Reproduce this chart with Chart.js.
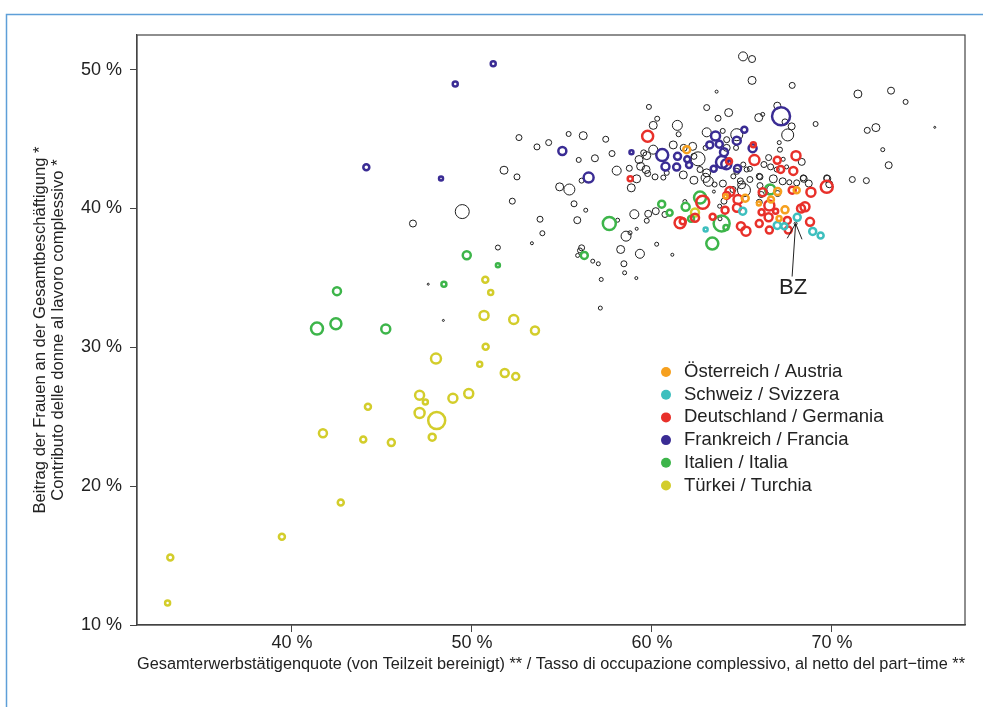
<!DOCTYPE html>
<html>
<head>
<meta charset="utf-8">
<script src="https://cdn.jsdelivr.net/npm/chart.js@4"></script>
<style>
  body { margin: 0; background: #fff; }
</style>
</head>
<body>
<canvas id="chart" width="983" height="707"></canvas>
<script>
// values: [employment rate %, women's share %, marker radius]
const austria = [[61.93,44.24,3.5],[65.18,40.74,3.5],[67.39,39.91,3.5],[67.06,39.28,2.5],[66.61,40.65,3],[68.04,41.32,3],[66.98,41.22,3.5],[65.94,40.36,2],[64.09,40.88,2]];
const switzerland = [[65.04,39.81,3.5],[62.98,38.49,2],[68.07,39.37,3.5],[66.96,38.78,3.5],[67.35,38.73,3],[68.93,38.35,3.5],[69.37,38.06,3]];
const germany = [[59.76,45.2,5.5],[65.63,44.6,2.5],[65.69,43.49,5],[66.96,43.47,3.5],[67.15,42.82,3.5],[67.85,42.71,4],[68.0,43.81,4.5],[64.28,43.4,3],[58.79,42.14,2.5],[61.56,38.97,5.5],[61.71,39.09,3],[62.39,39.33,4],[62.82,40.45,6.5],[63.37,39.4,3],[64.06,39.88,3.5],[64.33,41.22,4.5],[64.15,40.94,3.5],[64.78,40.65,4.5],[64.72,40.05,4],[64.94,38.73,4],[65.22,38.37,4.5],[65.96,38.92,3.5],[66.48,39.37,4],[66.52,40.22,5],[66.09,39.74,3],[66.87,39.81,2.5],[66.52,38.45,3.5],[67.52,39.14,3.5],[67.57,38.45,3.5],[68.28,40.0,4],[68.5,40.12,4.5],[68.78,39.04,4],[68.83,41.18,4.5],[67.79,41.32,3.5],[69.71,41.56,6],[66.15,41.18,4]];
const france = [[51.18,50.43,2.5],[49.07,48.97,2.5],[44.13,42.97,3],[48.28,42.16,2],[55.02,44.15,4],[58.86,44.05,2],[60.57,43.85,6],[61.42,43.76,3.5],[60.75,43.02,4],[61.37,42.99,3.5],[61.96,43.55,3],[62.06,43.14,3],[63.53,45.22,4.5],[63.21,44.58,3.5],[63.74,44.63,3.5],[64.0,44.06,4],[64.71,44.89,4],[65.13,45.68,3],[63.89,43.35,6],[64.13,43.19,5],[63.43,42.86,3],[64.75,42.88,3.5],[65.59,44.35,4],[67.17,46.64,9],[56.48,42.23,5]];
const italy = [[49.71,36.64,4],[51.44,35.92,2],[48.44,34.55,2.5],[42.5,34.05,4],[41.39,31.35,6],[42.44,31.7,5.5],[45.21,31.32,4.5],[60.54,40.31,3.5],[60.98,39.69,3],[57.63,38.92,6.5],[62.67,40.79,6],[61.87,40.12,4],[62.17,39.26,3],[63.87,38.92,8],[63.35,37.48,6],[64.11,38.63,2.5],[56.24,36.62,3.5],[66.56,41.37,5]];
const turkey = [[33.24,14.87,3],[33.09,11.58,2.5],[39.44,16.35,3],[42.71,18.83,3],[41.72,23.81,4],[43.96,23.36,3],[44.22,25.73,3],[45.52,23.14,3.5],[47.09,26.55,4.5],[47.41,26.07,2.5],[47.09,25.27,5],[48.04,24.73,8.5],[47.79,23.53,3.5],[48.0,29.19,5],[48.94,26.33,4.5],[49.82,26.67,4.5],[50.43,28.78,2.5],[50.76,30.05,3],[51.82,28.15,4],[52.43,27.9,3.5],[53.5,31.22,4],[50.74,34.87,3],[51.04,33.96,2.5],[50.67,32.3,4.5],[52.32,32.01,4.5],[62.39,39.71,4]];
const others = [[52.61,45.11,3],[53.61,44.44,3],[54.26,44.75,3],[51.78,42.76,4],[52.5,42.28,3],[49.46,39.78,7],[46.72,38.92,3.5],[52.24,40.53,3],[53.78,39.23,3],[53.91,38.22,2.5],[53.33,37.5,1.5],[51.44,37.19,2.5],[47.57,34.55,1],[48.41,31.94,1],
  [65.06,50.96,4.5],[65.56,50.77,3.5],[65.56,49.23,4],[67.79,48.87,3],[63.59,48.42,1.5],[71.44,48.25,4],[73.28,48.49,3.5],[74.09,47.68,2.5],[59.83,47.32,2.5],[63.04,47.27,3],[64.26,46.91,4],[63.67,46.5,3],[65.93,46.55,4],[66.15,46.78,2],[66.96,47.41,3.5],[67.39,46.24,3],[69.09,46.09,2.5],[72.44,45.83,4],[71.96,45.63,3],[75.71,45.85,1],
  [60.29,46.47,2.5],[60.07,45.99,4],[61.41,45.99,5],[61.48,45.35,2.5],[63.04,45.49,4.5],[63.93,45.59,2.5],[64.71,45.32,6],[67.76,45.92,3.5],[67.54,45.3,6],[67.07,44.75,2],[67.11,44.24,2.5],
  [55.37,45.37,2.5],[56.18,45.25,4],[57.43,44.99,3],[55.93,43.5,2.5],[56.83,43.62,3.5],[57.78,43.96,3],[58.04,42.73,4.5],[58.74,42.9,3],[59.28,43.53,4],[59.54,44.01,3],[59.71,43.81,4],[60.07,44.24,4.5],[61.18,44.58,4],[61.76,44.37,3.5],[62.26,44.48,4],[62.98,44.37,2.5],[62.56,43.58,7],
  [59.37,43.04,4],[59.67,42.81,4],[59.76,42.52,3],[60.82,42.57,2.5],[61.74,42.42,4],[62.33,43.76,3],[62.67,42.81,3],[63.04,42.57,4],[64.15,44.37,3.5],[64.67,44.37,2.5],[64.15,44.96,3],[64.52,42.32,2.5],[65.26,42.81,2.5],[65.96,42.32,3],[66.22,43.17,3],[66.48,43.67,3],[66.59,43.0,3],[67.29,43.55,2],[67.48,43.0,2],[68.32,43.36,3.5],[68.41,42.21,3],[69.71,42.21,3],[71.13,42.09,3],[71.91,42.01,3],[72.82,44.24,2],[73.15,43.12,3.5],
  [54.87,41.56,4],[55.41,41.37,5.5],[56.09,42.01,2.5],[59.15,42.14,4],[58.85,41.49,4],[60.17,42.28,3],[60.63,42.23,2.5],[62.33,42.04,4],[62.98,42.21,4.5],[63.13,41.96,5],[63.48,41.73,2.5],[63.44,41.22,1.5],[63.94,41.8,3.5],[64.98,41.71,4],[65.11,41.32,6.5],[64.91,41.99,3],[65.44,42.09,3],[66.0,41.65,3],[66.0,42.28,3],[66.74,42.14,4],[67.26,41.96,3.5],[67.63,41.89,2.5],[68.04,41.85,3],[68.43,42.14,3.5],[68.71,41.8,3.5],[69.74,42.14,3.5],[69.85,41.75,3.5],[66.63,41.37,4.5],[66.98,41.08,3],[66.07,41.01,3],[64.5,41.37,3],[64.0,40.53,3],[63.76,40.17,2],[61.83,40.5,2],[65.96,40.45,3],
  [55.67,40.34,3],[56.32,39.88,2],[59.02,39.59,4.5],[59.79,39.62,3.5],[60.21,39.81,3.5],[60.72,39.57,3],[59.71,39.12,2.5],[58.09,39.16,2],[55.85,39.16,3.5],[59.15,38.54,1.5],[58.56,38.01,5],[58.78,38.25,2],[56.09,37.17,3],[56.0,36.98,2.5],[55.87,36.62,2],[58.26,37.05,4],[59.33,36.74,4.5],[60.26,37.43,2],[61.13,36.67,1.5],[56.71,36.21,2],[57.02,36.02,2],[58.44,36.02,3],[58.48,35.37,2],[59.13,34.99,1.5],[57.18,34.89,2],[57.13,32.83,2],[63.78,39.26,2],[65.07,43.17,2.5],[64.71,42.68,3],[65.44,42.86,2.5],[66.93,42.81,2.5]];
const bz = [67.98, 38.92];

const xTicks = [40, 50, 60, 70];
const yTicks = [10, 20, 30, 40, 50];
const xTitle = 'Gesamterwerbstätigenquote (von Teilzeit bereinigt) ** / Tasso di occupazione complessivo, al netto del part\u2212time **';
const yTitle = ['Beitrag der Frauen an der Gesamtbeschäftigung *', 'Contributo delle donne al lavoro complessivo *'];

const FONT = '"Liberation Sans", Arial, Helvetica, sans-serif';
const toPts = arr => arr.map(p => ({x: p[0], y: p[1], r: p[2]}));

function group(label, arr, color, bw) {
  return {
    label: label,
    data: toPts(arr),
    borderColor: color,
    backgroundColor: 'rgba(0,0,0,0)',
    borderWidth: bw,
    hoverBorderWidth: bw,
    showLegend: true
  };
}

const datasets = [
  group('Österreich / Austria', austria, '#f6a01e', 2.5),
  group('Schweiz / Svizzera', switzerland, '#3dbfbe', 2.5),
  group('Deutschland / Germania', germany, '#e8302a', 2.5),
  group('Frankreich / Francia', france, '#3a2c94', 2.5),
  group('Italien / Italia', italy, '#3db54a', 2.5),
  group('Türkei / Turchia', turkey, '#d3cd2b', 2.5)
];
const rest = group('Andere', others.concat([[bz[0], bz[1], 1.5]]), '#1e1e1e', 1);
rest.showLegend = false;
datasets.push(rest);

// blue frame, plot box, legend and BZ arrow
const extras = {
  id: 'extras',
  beforeDraw(chart) {
    const ctx = chart.ctx;
    ctx.save();
    ctx.fillStyle = '#fff';
    ctx.fillRect(0, 0, chart.width, chart.height);
    ctx.strokeStyle = '#5e9fd8';
    ctx.lineWidth = 1.5;
    ctx.beginPath();
    ctx.moveTo(6.5, chart.height);
    ctx.lineTo(6.5, 14.5);
    ctx.lineTo(chart.width, 14.5);
    ctx.stroke();
    ctx.restore();
  },
  afterDraw(chart) {
    const ctx = chart.ctx;
    const a = chart.chartArea;
    ctx.save();
    ctx.strokeStyle = '#444';
    ctx.lineWidth = 1.2;
    ctx.strokeRect(a.left, a.top, a.right - a.left, a.bottom - a.top);

    // legend
    let y = 372;
    ctx.font = '18.5px ' + FONT;
    ctx.textBaseline = 'middle';
    ctx.textAlign = 'left';
    chart.data.datasets.forEach(ds => {
      if (!ds.showLegend) return;
      ctx.fillStyle = ds.borderColor;
      ctx.beginPath();
      ctx.arc(666, y, 5, 0, Math.PI * 2);
      ctx.fill();
      ctx.fillStyle = '#222';
      ctx.fillText(ds.label, 684, y);
      y += 22.7;
    });

    // BZ arrow
    const tx = chart.scales.x.getPixelForValue(bz[0]);
    const ty = chart.scales.y.getPixelForValue(bz[1]);
    const sx = tx - 3.5, sy = ty + 53;
    ctx.strokeStyle = '#222';
    ctx.lineWidth = 1;
    ctx.beginPath();
    ctx.moveTo(sx, sy);
    ctx.lineTo(tx, ty);
    const ang = Math.atan2(ty - sy, tx - sx);
    [0.45, -0.45].forEach(d => {
      ctx.moveTo(tx, ty);
      ctx.lineTo(tx - 17 * Math.cos(ang + d), ty - 17 * Math.sin(ang + d));
    });
    ctx.stroke();
    ctx.fillStyle = '#222';
    ctx.font = '22px ' + FONT;
    ctx.textAlign = 'center';
    ctx.fillText('BZ', sx + 1, sy + 11);
    ctx.restore();
  }
};

new Chart(document.getElementById('chart'), {
  type: 'bubble',
  data: { datasets: datasets },
  plugins: [extras],
  options: {
    responsive: false,
    animation: false,
    devicePixelRatio: 1,
    layout: { padding: { top: 35, right: 18, left: 0, bottom: 0 } },
    plugins: { legend: { display: false }, tooltip: { enabled: false } },
    scales: {
      x: {
        type: 'linear',
        min: 31.39,
        max: 77.39,
        afterBuildTicks: s => { s.ticks = xTicks.map(v => ({value: v})); },
        afterFit: s => { s.height = 82; },
        ticks: {
          autoSkip: false, maxRotation: 0, padding: 0, color: '#222',
          font: { family: FONT, size: 18 },
          callback: v => v + ' %'
        },
        grid: { drawOnChartArea: false, tickLength: 7, color: '#444' },
        border: { color: '#444', width: 1.2 },
        title: {
          display: true, text: xTitle, color: '#222',
          font: { family: FONT, size: 16.9 },
          padding: { top: 0, bottom: 33 }
        }
      },
      y: {
        type: 'linear',
        min: 10,
        max: 52.5,
        afterBuildTicks: s => { s.ticks = yTicks.map(v => ({value: v})); },
        afterFit: s => { s.width = 137; },
        ticks: {
          autoSkip: false, padding: 8, color: '#222',
          font: { family: FONT, size: 18 },
          callback: v => v + ' %'
        },
        grid: { drawOnChartArea: false, tickLength: 7, color: '#444' },
        border: { color: '#444', width: 1.2 },
        title: {
          display: true, text: yTitle, color: '#222',
          font: { family: FONT, size: 16.6, lineHeight: 1.1 },
          padding: { top: 31, bottom: 0 }
        }
      }
    }
  }
});
</script>
</body>
</html>
